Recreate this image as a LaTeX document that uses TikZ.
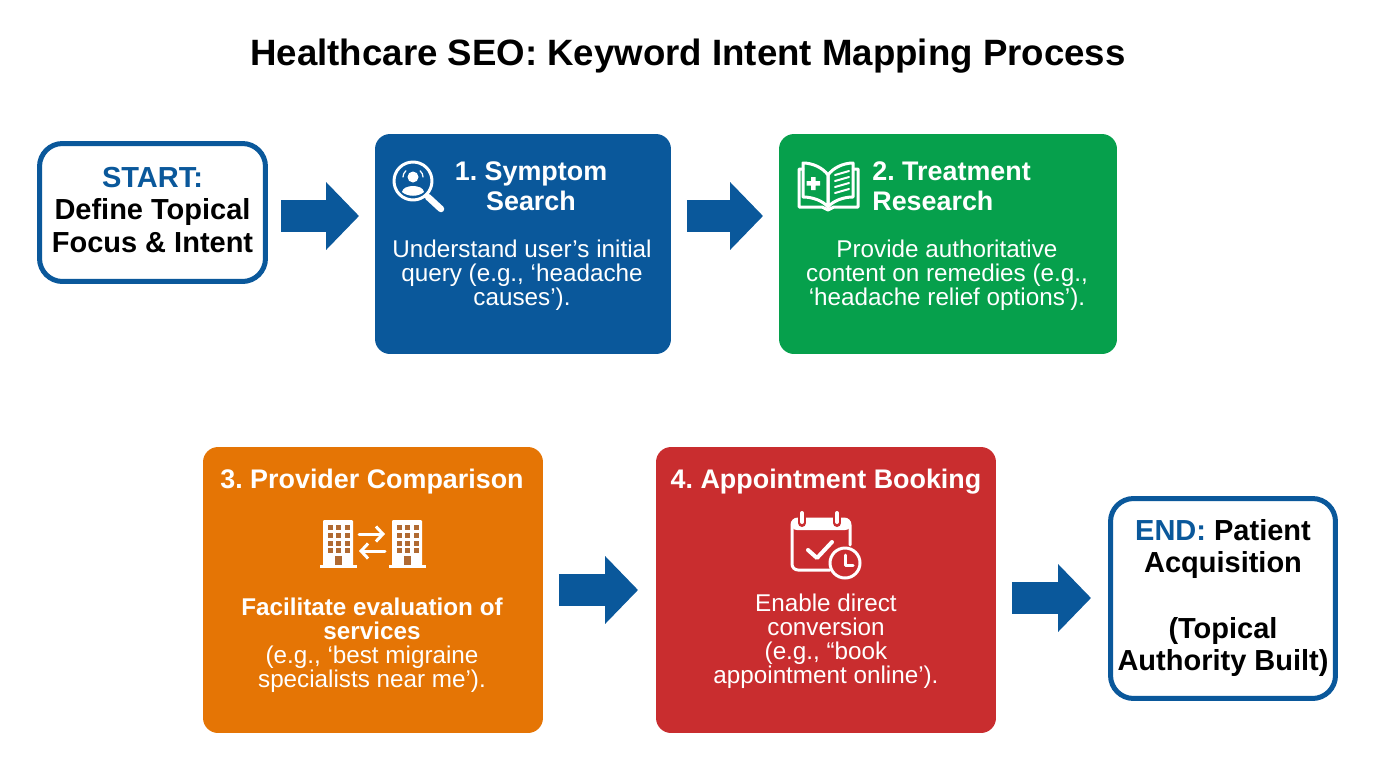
\documentclass[tikz,border=0pt]{standalone}
\usepackage{fontspec}
\setmainfont{Liberation Sans}
\usetikzlibrary{arrows.meta}

\definecolor{seoblue}{RGB}{10,88,155}
\definecolor{seogreen}{RGB}{6,160,76}
\definecolor{seoorange}{RGB}{229,117,5}
\definecolor{seored}{RGB}{201,45,47}
\definecolor{seowindow}{RGB}{176,106,50}

\tikzset{
  stepbox/.style={rounded corners=0.3cm, inner sep=0, outer sep=0},
  endbox/.style={draw=seoblue, line width=0.1cm, fill=white, rounded corners=0.46cm, inner sep=0, outer sep=0},
  flow/.style={seoblue, line width=0.64cm, line cap=butt, -{Triangle[length=0.66cm,width=1.32cm]}, shorten <=0.32cm, shorten >=0.32cm},
  headtext/.style={white, align=center, inner sep=0, font=\fontsize{15.3}{17}\selectfont\bfseries},
  bodytext/.style={white, align=center, inner sep=0, font=\fontsize{13.8}{13.6}\selectfont},
  endtext/.style={black, align=center, inner sep=0, font=\fontsize{16.5}{18.6}\selectfont\bfseries},
  iconline/.style={white, line width=0.06cm, line cap=round, line join=round},
}

\begin{document}
\frenchspacing
\begin{tikzpicture}[x=0.02cm, y=-0.02cm, line cap=round, line join=round]
\useasboundingbox (0,0) rectangle (1376,768);

\node[inner sep=0, font=\fontsize{20.85}{22}\selectfont\bfseries] (title) at (688,56.5) {Healthcare SEO: Keyword Intent Mapping Process};

% boxes
\node[endbox, minimum width=4.52cm, minimum height=2.76cm] (start) at (152.5,212.5) {};
\node[stepbox, fill=seoblue, minimum width=5.92cm, minimum height=4.4cm] (symptom) at (523,244) {};
\node[stepbox, fill=seogreen, minimum width=6.76cm, minimum height=4.4cm] (treatment) at (948,244) {};
\node[stepbox, fill=seoorange, minimum width=6.8cm, minimum height=5.72cm] (provider) at (373,590) {};
\node[stepbox, fill=seored, minimum width=6.8cm, minimum height=5.72cm] (booking) at (826,590) {};
\node[endbox, minimum width=4.5cm, minimum height=4cm] (finish) at (1223,598.5) {};

% arrows
\coordinate (rowa) at (0,216);
\coordinate (rowb) at (0,590);
\coordinate (rowc) at (0,598);
\draw[flow] (start.east |- rowa) -- (symptom.west |- rowa);
\draw[flow] (symptom.east |- rowa) -- (treatment.west |- rowa);
\draw[flow, shorten >=0.36cm] (provider.east |- rowb) -- (booking.west |- rowb);
\draw[flow, shorten >=0.39cm] (booking.east |- rowc) -- (finish.west |- rowc);

% texts
\node[endtext] (starttext) at (152.5,210) {\textcolor{seoblue}{START:}\\Define Topical\\Focus \& Intent};
\node[headtext] (symptomhead) at (531,186) {1. Symptom\\Search};
\node[bodytext] (symptombody) at (522,275) {Understand user’s initial\\query (e.g., ‘headache\\causes’).};
\node[headtext, align=left, anchor=west] (treatmenthead) at (872,186) {2. Treatment\\Research};
\node[bodytext] (treatmentbody) at (947,275) {Provide authoritative\\content on remedies (e.g.,\\‘headache relief options’).};
\node[headtext] (providerhead) at (372,481.5) {3. Provider Comparison};
\node[bodytext] (providerbody) at (372,645) {\textbf{Facilitate evaluation of}\\\textbf{services}\\(e.g., ‘best migraine\\specialists near me’).};
\node[headtext] (bookinghead) at (826,481.5) {4. Appointment Booking};
\node[bodytext] (bookingbody) at (826,641) {Enable direct\\conversion\\(e.g., “book\\appointment online’).};
\node[endtext] (finishtext) at (1223,598) {\textcolor{seoblue}{END:} Patient\\Acquisition\\[18.6pt](Topical\\Authority Built)};

% magnifier
\draw[iconline] (413,181) circle (19);
\draw[iconline, line width=0.13cm] (428,197) -- (441,209);
\fill[white] (413,177) circle (5.5);
\fill[white] (402,192) .. controls (403,184) and (423,184) .. (424,192) .. controls (418,197) and (408,197) .. (402,192) -- cycle;
\draw[white, line width=0.025cm] (403,177) arc (180:230:8) (423,177) arc (0:-50:8);

% book
\draw[iconline] (803,163) .. controls (813,163) and (823,168) .. (828,175) -- (828,207) .. controls (823,201) and (813,197) .. (803,197) -- cycle;
\draw[iconline] (853,163) .. controls (843,163) and (833,168) .. (828,175) -- (828,207) .. controls (833,201) and (843,197) .. (853,197) -- cycle;
\draw[iconline] (803,169) -- (799,169) -- (799,207) -- (822,207) -- (828,210) -- (834,207) -- (858,207) -- (858,169) -- (853,169);
\fill[white] (811,177) rectangle (815.5,190) (806.5,181) rectangle (820,185.5);
\foreach \ya/\yb in {175/171, 181/177, 187/183, 193/189}
  \draw[white, line width=0.04cm] (835,\ya) -- (849,\yb);

% buildings
\foreach \bx in {323, 392} {
  \begin{scope}[shift={(\bx,0)}]
  \fill[white, rounded corners=0.02cm] (0,520) rectangle (30,566);
  \fill[white] (-3,565) rectangle (34,568);
  \foreach \wx in {5,13,22}
    \foreach \wy in {525,533,541,548}
      \fill[seowindow] (\wx,\wy) rectangle +(4.5,4.5);
  \fill[seowindow] (12,556) rectangle (19,565);
  \end{scope}
}
\draw[iconline, -{Straight Barb[length=0.14cm,width=0.3cm]}] (359,534) -- (385,534);
\draw[iconline, -{Straight Barb[length=0.14cm,width=0.3cm]}] (385,551) -- (359,551);

% calendar
\draw[iconline, rounded corners=0.12cm] (830,570) -- (792,570) -- (792,519) -- (850,519) -- (850,545);
\fill[white, rounded corners=0.12cm] (791,518) -- (851,518) -- (851,530) -- (791,530) -- cycle;
\foreach \rx in {802, 837} {
  \draw[seored, line width=0.16cm] (\rx,513) -- (\rx,523);
  \draw[white, line width=0.08cm] (\rx,513) -- (\rx,522);
}
\draw[iconline, line width=0.08cm] (808,550) -- (817,558) -- (832,542);
\draw[iconline, fill=seored] (845,563) circle (15);
\draw[iconline] (845,555) -- (845,565) -- (853,565);

\end{tikzpicture}
\end{document}
